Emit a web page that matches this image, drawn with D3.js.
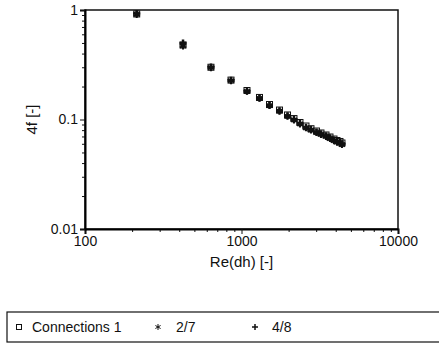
<!DOCTYPE html>
<html>
<head>
<meta charset="utf-8">
<script src="https://cdn.jsdelivr.net/npm/d3@7"></script>
<style>
  body { margin: 0; background: #fff; }
  text { font-family: "Liberation Sans", Arial, sans-serif; fill: #111; }
</style>
</head>
<body>
<div id="chart"></div>
<script>
// data
var reConn1 = [214, 423, 638, 857, 1084, 1303, 1510, 1749, 1968, 2164, 2364, 2582, 2779, 3013, 3220, 3467, 3676, 3899, 4075, 4258, 4385];
var fConn1 = [0.92, 0.479, 0.300, 0.229, 0.184, 0.159, 0.137, 0.122, 0.110, 0.102, 0.0939, 0.0872, 0.0824, 0.0785, 0.0753, 0.0722, 0.0692, 0.0663, 0.0643, 0.0630, 0.0610];
var re27 = [214, 423, 638, 857, 1084, 1303, 1510, 1749, 1968, 2164, 2364, 2582, 2779, 3013, 3220, 3467, 3676, 3899, 4075, 4258, 4385];
var f27 = [0.91, 0.47, 0.297, 0.226, 0.181, 0.156, 0.134, 0.119, 0.107, 0.099, 0.091, 0.084, 0.080, 0.076, 0.073, 0.070, 0.067, 0.064, 0.062, 0.061, 0.059];
var re48 = [214, 423, 638, 857, 1084, 1303, 1510, 1749, 1968, 2164, 2364, 2582, 2779, 3013, 3220, 3467, 3676, 3899, 4075, 4258, 4385];
var f48 = [0.93, 0.50, 0.302, 0.228, 0.182, 0.157, 0.135, 0.120, 0.108, 0.100, 0.092, 0.085, 0.081, 0.077, 0.074, 0.071, 0.068, 0.065, 0.063, 0.0615, 0.060];
var xTickValues = [100, 1000, 10000];
var yTickValues = [0.01, 0.1, 1];
var seriesNames = ["Connections 1", "2/7", "4/8"];

var W = 439, H = 343;
var margin = {top: 10, right: 41, bottom: 114, left: 85},
    width = W - margin.left - margin.right,
    height = H - margin.top - margin.bottom;

var svg = d3.select("#chart")
  .append("svg")
  .attr("width", W)
  .attr("height", H);

var g = svg.append("g")
  .attr("transform", "translate(" + margin.left + "," + margin.top + ")");

var x = d3.scaleLog().domain([100, 10000]).range([0, width]);
var y = d3.scaleLog().domain([0.01, 1]).range([height, 0]);

// minor ticks 2..9 per decade
function minors(dom) {
  var out = [];
  for (var e = Math.log10(dom[0]); e < Math.log10(dom[1]); e++) {
    for (var k = 2; k < 10; k++) out.push(k * Math.pow(10, e));
  }
  return out;
}

var fmt = function(d) { return String(+d.toPrecision(3)); };

// frame
g.append("rect")
  .attr("width", width)
  .attr("height", height)
  .attr("fill", "none")
  .attr("stroke", "#111")
  .attr("stroke-width", 1.5);

// x axis
g.append("g")
  .attr("transform", "translate(0," + height + ")")
  .call(d3.axisBottom(x).tickValues(minors(x.domain())).tickSize(3).tickFormat(""))
  .call(function(s) { s.select(".domain").remove(); });
var xa = g.append("g")
  .attr("transform", "translate(0," + height + ")")
  .call(d3.axisBottom(x).tickValues(xTickValues).tickSize(5).tickPadding(2).tickFormat(fmt));
xa.select(".domain").attr("stroke-width", 2);
xa.selectAll("text").style("font-size", "14px").attr("fill", "#111");

// y axis
g.append("g")
  .call(d3.axisLeft(y).tickValues(minors(y.domain())).tickSize(3).tickFormat(""))
  .call(function(s) { s.select(".domain").remove(); });
var ya = g.append("g")
  .call(d3.axisLeft(y).tickValues(yTickValues).tickSize(5).tickPadding(2).tickFormat(fmt));
ya.select(".domain").attr("stroke-width", 2);
ya.selectAll("text").style("font-size", "14px").attr("fill", "#111");

svg.selectAll(".tick line").attr("stroke", "#111");

// axis titles
g.append("text")
  .attr("x", x(1000))
  .attr("y", height + 38)
  .attr("text-anchor", "middle")
  .style("font-size", "15px")
  .text("Re(dh)  [-]");

g.append("text")
  .attr("transform", "translate(-48," + (height / 2) + ") rotate(-90)")
  .attr("text-anchor", "middle")
  .style("font-size", "15px")
  .text("4f [-]");

// marker shapes
var sq = d3.symbol().type(d3.symbolSquare).size(30);
var star = d3.symbol().type(d3.symbolAsterisk || d3.symbolTimes).size(45);
var cross = d3.symbol().type(d3.symbolCross).size(40);

function starPath(r) {
  var p = "";
  for (var i = 0; i < 3; i++) {
    var a = Math.PI / 2 + i * Math.PI / 3;
    p += "M" + (-r * Math.cos(a)) + "," + (-r * Math.sin(a)) + "L" + (r * Math.cos(a)) + "," + (r * Math.sin(a));
  }
  return p;
}
function plusPath(r) {
  return "M" + (-r) + ",0L" + r + ",0M0," + (-r) + "L0," + r;
}

var d1 = reConn1.map(function(v, i) { return {re: v, f: fConn1[i]}; });
var d2 = re27.map(function(v, i) { return {re: v, f: f27[i]}; });
var d3s = re48.map(function(v, i) { return {re: v, f: f48[i]}; });

g.selectAll(".s27").data(d2).enter().append("path")
  .attr("class", "s27")
  .attr("transform", function(d) { return "translate(" + x(d.re) + "," + y(d.f) + ")"; })
  .attr("d", starPath(3.5))
  .attr("stroke", "#111").attr("stroke-width", 2);

g.selectAll(".s48").data(d3s).enter().append("path")
  .attr("class", "s48")
  .attr("transform", function(d) { return "translate(" + x(d.re) + "," + y(d.f) + ")"; })
  .attr("d", plusPath(3.5))
  .attr("stroke", "#111").attr("stroke-width", 2.5);

g.selectAll(".s1").data(d1).enter().append("rect")
  .attr("class", "s1")
  .attr("x", function(d) { return x(d.re) - 3; })
  .attr("y", function(d) { return y(d.f) - 3; })
  .attr("width", 6).attr("height", 6)
  .attr("fill", "none")
  .attr("stroke", "#111").attr("stroke-width", 1);

// legend
var lg = svg.append("g").attr("transform", "translate(7,312)");
lg.append("rect")
  .attr("width", 440).attr("height", 30)
  .attr("fill", "none").attr("stroke", "#111").attr("stroke-width", 1.2);

var legX = [12, 151, 248];
var legTx = [25, 169, 265];
seriesNames.forEach(function(name, i) {
  var m = lg.append("g").attr("transform", "translate(" + legX[i] + ",15)");
  if (i === 0) {
    m.append("rect").attr("x", -2.5).attr("y", -2.5).attr("width", 5).attr("height", 5)
      .attr("fill", "none").attr("stroke", "#111");
  } else if (i === 1) {
    m.append("path").attr("d", starPath(3)).attr("stroke", "#111").attr("stroke-width", 1);
  } else {
    m.append("path").attr("d", plusPath(3)).attr("stroke", "#111").attr("stroke-width", 1.5);
  }
  lg.append("text")
    .attr("x", legTx[i])
    .attr("y", 20)
    .style("font-size", "14px")
    .text(name);
});
</script>
</body>
</html>
